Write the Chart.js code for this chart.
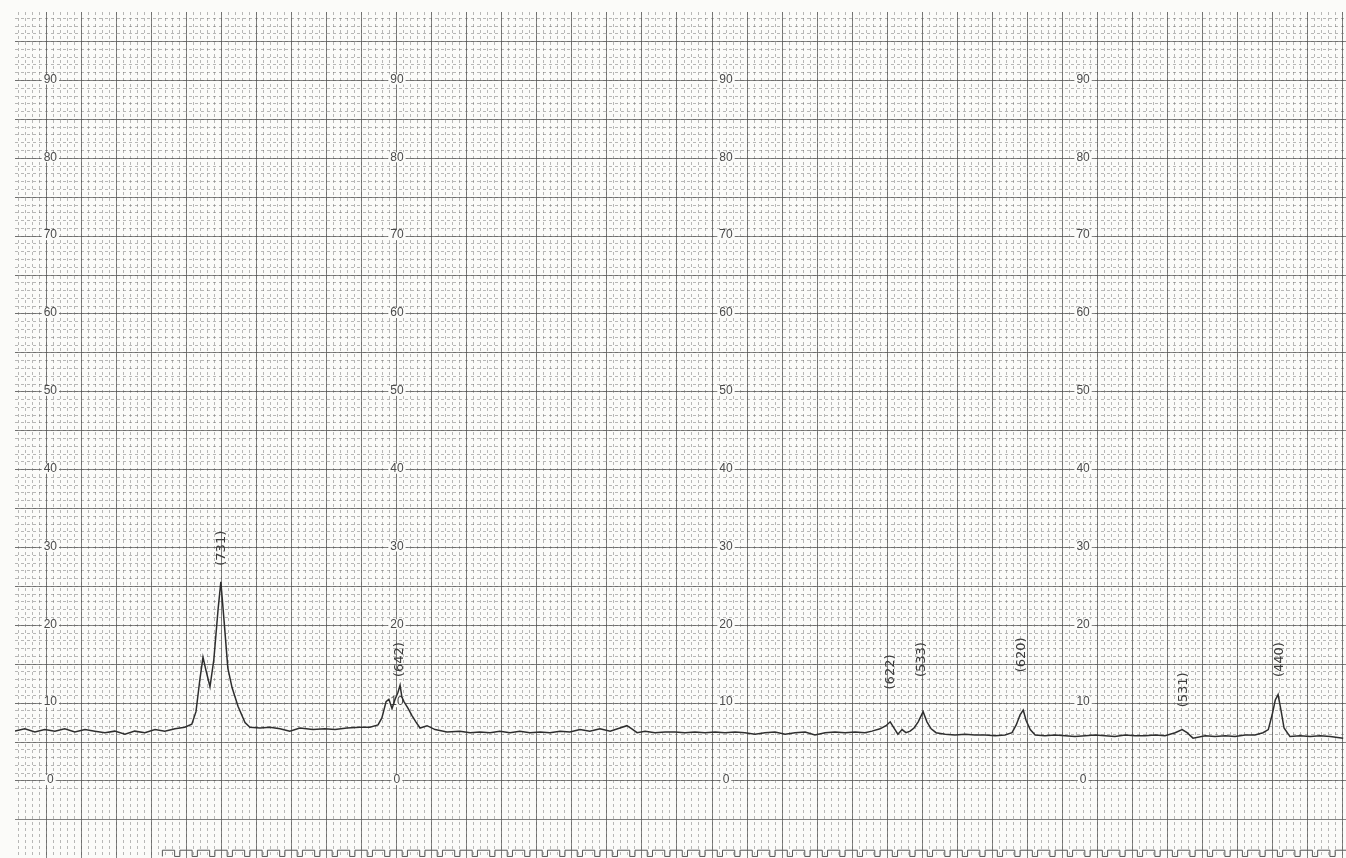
<!DOCTYPE html>
<html>
<head>
<meta charset="utf-8">
<script src="https://cdn.jsdelivr.net/npm/chart.js@4.4.0/dist/chart.umd.min.js"></script>
<style>
  html, body { margin: 0; padding: 0; background: #fbfbf9; }
  #wrap { width: 1346px; height: 858px; }
</style>
</head>
<body>
<div id="wrap"><canvas id="xrd"></canvas></div>
<script>
// recorder trace, x in chart divisions, y in paper units (0-100)
const traceX = [
  -0.91, -0.63, -0.34, -0.06, 0.23, 0.51, 0.80, 1.09, 1.37, 1.66, 1.94, 2.23, 2.51, 2.80, 3.09, 3.37, 3.66, 3.94,
  4.14, 4.26, 4.37, 4.46, 4.54, 4.66, 4.77, 4.89, 4.97, 5.06, 5.17, 5.29, 5.46, 5.66, 5.80,
  6.09, 6.37, 6.66, 6.94, 7.23, 7.60, 7.94, 8.23, 8.57, 8.94, 9.23, 9.46,
  9.57, 9.69, 9.77, 9.86, 9.94, 10.03, 10.09, 10.14, 10.20, 10.31, 10.43, 10.54, 10.66, 10.86, 11.09,
  11.43, 11.80, 12.09, 12.37, 12.66, 12.94, 13.23, 13.51, 13.80, 14.09, 14.37, 14.66, 14.94, 15.23, 15.51,
  15.80, 16.09, 16.37, 16.57, 16.71, 16.86, 17.09, 17.37, 17.66, 17.94, 18.23, 18.51, 18.80, 19.09, 19.37,
  19.66, 19.94, 20.23, 20.51, 20.80, 21.09, 21.37, 21.66, 21.94, 22.23, 22.51, 22.80, 23.09, 23.37,
  23.57, 23.80, 23.97, 24.09, 24.20, 24.31, 24.43, 24.54, 24.66, 24.77, 24.89, 25.03, 25.14, 25.26, 25.40,
  25.66, 25.94, 26.23, 26.51, 26.80, 27.09, 27.37, 27.57, 27.69, 27.80, 27.89, 27.97, 28.09, 28.23,
  28.51, 28.80, 29.09, 29.37, 29.66, 29.94, 30.23, 30.51, 30.80, 31.09, 31.37, 31.66, 31.94, 32.23,
  32.43, 32.57, 32.74, 33.09, 33.37, 33.66, 33.94, 34.23, 34.51, 34.74, 34.89, 35.00, 35.09, 35.17,
  35.26, 35.34, 35.51, 35.80, 36.09, 36.37, 36.66, 37.03
];
const traceY = [
  6.4, 6.7, 6.3, 6.6, 6.4, 6.7, 6.3, 6.6, 6.4, 6.2, 6.4, 6.0, 6.4, 6.2, 6.6, 6.4, 6.7, 6.9,
  7.3, 8.9, 13.0, 15.9, 14.3, 12.1, 15.6, 22.0, 25.6, 20.7, 14.5, 12.0, 9.6, 7.5, 6.9,
  6.8, 6.9, 6.7, 6.4, 6.8, 6.6, 6.7, 6.6, 6.8, 6.9, 6.9, 7.2,
  8.1, 10.2, 10.5, 9.3, 10.4, 11.4, 12.3, 10.8, 10.2, 9.4, 8.4, 7.6, 6.8, 7.1, 6.6,
  6.3, 6.4, 6.2, 6.3, 6.2, 6.4, 6.2, 6.4, 6.2, 6.3, 6.2, 6.4, 6.3, 6.6, 6.4,
  6.7, 6.4, 6.8, 7.1, 6.7, 6.2, 6.4, 6.2, 6.3, 6.3, 6.2, 6.3, 6.2, 6.3, 6.2,
  6.3, 6.2, 6.0, 6.2, 6.3, 6.0, 6.2, 6.3, 5.9, 6.2, 6.3, 6.2, 6.3, 6.2,
  6.4, 6.7, 7.1, 7.6, 6.8, 6.0, 6.6, 6.2, 6.4, 6.8, 7.6, 8.9, 7.6, 6.7, 6.2,
  6.0, 5.9, 6.0, 5.9, 5.9, 5.8, 5.9, 6.2, 7.2, 8.5, 9.1, 7.8, 6.6, 5.9,
  5.8, 5.9, 5.8, 5.7, 5.8, 5.9, 5.8, 5.7, 5.9, 5.8, 5.8, 5.9, 5.8, 6.2,
  6.6, 6.2, 5.5, 5.8, 5.7, 5.8, 5.7, 5.9, 5.9, 6.2, 6.6, 8.5, 10.4, 11.1,
  8.9, 6.8, 5.7, 5.8, 5.7, 5.8, 5.7, 5.5
];

// printed scale on the paper
const paperLabels = [90, 80, 70, 60, 50, 40, 30, 20, 10, 0];
const labelColumns = [0.1, 10.0, 19.4, 29.6];

// hand-written reflections
const peakNames = ['(731)', '(642)', '(622)', '(533)', '(620)', '(531)', '(440)'];
const peakX = [5.0, 10.09, 24.11, 25.0, 27.83, 32.46, 35.2];
const peakTextY = [29.9, 15.6, 14.0, 15.6, 16.2, 11.7, 15.6];

// timing marks along the bottom edge
const pulseStart = 3.3;
const pulseEnd = 37.1;
const pulseStep = 0.5;
const pulseHigh = -8.9;
const pulseLow = -9.7;

const X_MIN = -0.91, X_MAX = 37.11;
const Y_MIN = -9.9, Y_MAX = 98.8;

const majorGrid = 'rgba(80,80,80,0.7)';
const minorGrid = 'rgba(100,100,100,0.45)';

const paperText = {
  id: 'paperText',
  beforeDatasetsDraw(chart) {
    const { ctx, scales } = chart;
    const x = scales.x, y = scales.y;
    ctx.save();
    ctx.font = '12px "Liberation Sans", sans-serif';
    ctx.textAlign = 'center';
    ctx.textBaseline = 'middle';
    labelColumns.forEach((col) => {
      paperLabels.forEach((v) => {
        const px = x.getPixelForValue(col);
        const py = y.getPixelForValue(v) - 1;
        const w = ctx.measureText(String(v)).width;
        ctx.fillStyle = '#fbfbf9';
        ctx.fillRect(px - w / 2 - 2, py - 5, w + 4, 10);
        ctx.fillStyle = '#4a4a4a';
        ctx.fillText(String(v), px, py);
      });
    });
    // square-wave timing marks
    ctx.strokeStyle = '#555';
    ctx.lineWidth = 1;
    ctx.beginPath();
    const hi = y.getPixelForValue(pulseHigh), lo = y.getPixelForValue(pulseLow);
    for (let t = pulseStart; t < pulseEnd; t += pulseStep) {
      const a = x.getPixelForValue(t);
      const b = x.getPixelForValue(t + pulseStep * 0.7);
      const c = x.getPixelForValue(t + pulseStep);
      ctx.moveTo(a, lo); ctx.lineTo(a, hi); ctx.lineTo(b, hi); ctx.lineTo(b, lo); ctx.lineTo(c, lo);
    }
    ctx.stroke();
    ctx.restore();
  },
  afterDatasetsDraw(chart) {
    const { ctx, scales } = chart;
    ctx.save();
    ctx.font = '13px "DejaVu Sans", sans-serif';
    ctx.fillStyle = '#3c3c3c';
    ctx.textAlign = 'center';
    ctx.textBaseline = 'middle';
    peakNames.forEach((name, i) => {
      ctx.save();
      ctx.translate(scales.x.getPixelForValue(peakX[i]), scales.y.getPixelForValue(peakTextY[i]));
      ctx.rotate(-Math.PI / 2);
      ctx.fillText(name, 0, 0);
      ctx.restore();
    });
    ctx.restore();
  },
};

function gridAxis(axis, min, max, step, color, dash, z) {
  return {
    type: 'linear', axis, min, max, z,
    position: axis === 'x' ? 'bottom' : 'left',
    ticks: { display: false, stepSize: step, includeBounds: false, maxTicksLimit: 1000 },
    grid: {
      color: axis === 'y'
        ? (c) => (c.tick && c.tick.value < -1 && step < 5 ? 'rgba(0,0,0,0)' : color)
        : color,
      lineWidth: 1, drawTicks: false,
    },
    border: { display: false, dash },
  };
}

new Chart(document.getElementById('xrd'), {
  type: 'line',
  data: {
    datasets: [{
      data: traceX.map((x, i) => ({ x, y: traceY[i] })),
      borderColor: '#2e2e2e',
      borderWidth: 1.5,
      pointRadius: 0,
      tension: 0,
    }],
  },
  options: {
    responsive: true,
    maintainAspectRatio: false,
    animation: false,
    layout: { padding: { left: 15, top: 12, right: 0, bottom: 0 } },
    plugins: { legend: { display: false }, tooltip: { enabled: false } },
    scales: {
      xMinor: gridAxis('x', X_MIN, X_MAX, 0.2, minorGrid, [3, 3], -2),
      yMinor: gridAxis('y', Y_MIN, Y_MAX, 1, minorGrid, [3, 3], -2),
      x: gridAxis('x', X_MIN, X_MAX, 1, majorGrid, [], -1),
      y: gridAxis('y', Y_MIN, Y_MAX, 5, majorGrid, [], -1),
    },
  },
  plugins: [paperText],
});
</script>
</body>
</html>
